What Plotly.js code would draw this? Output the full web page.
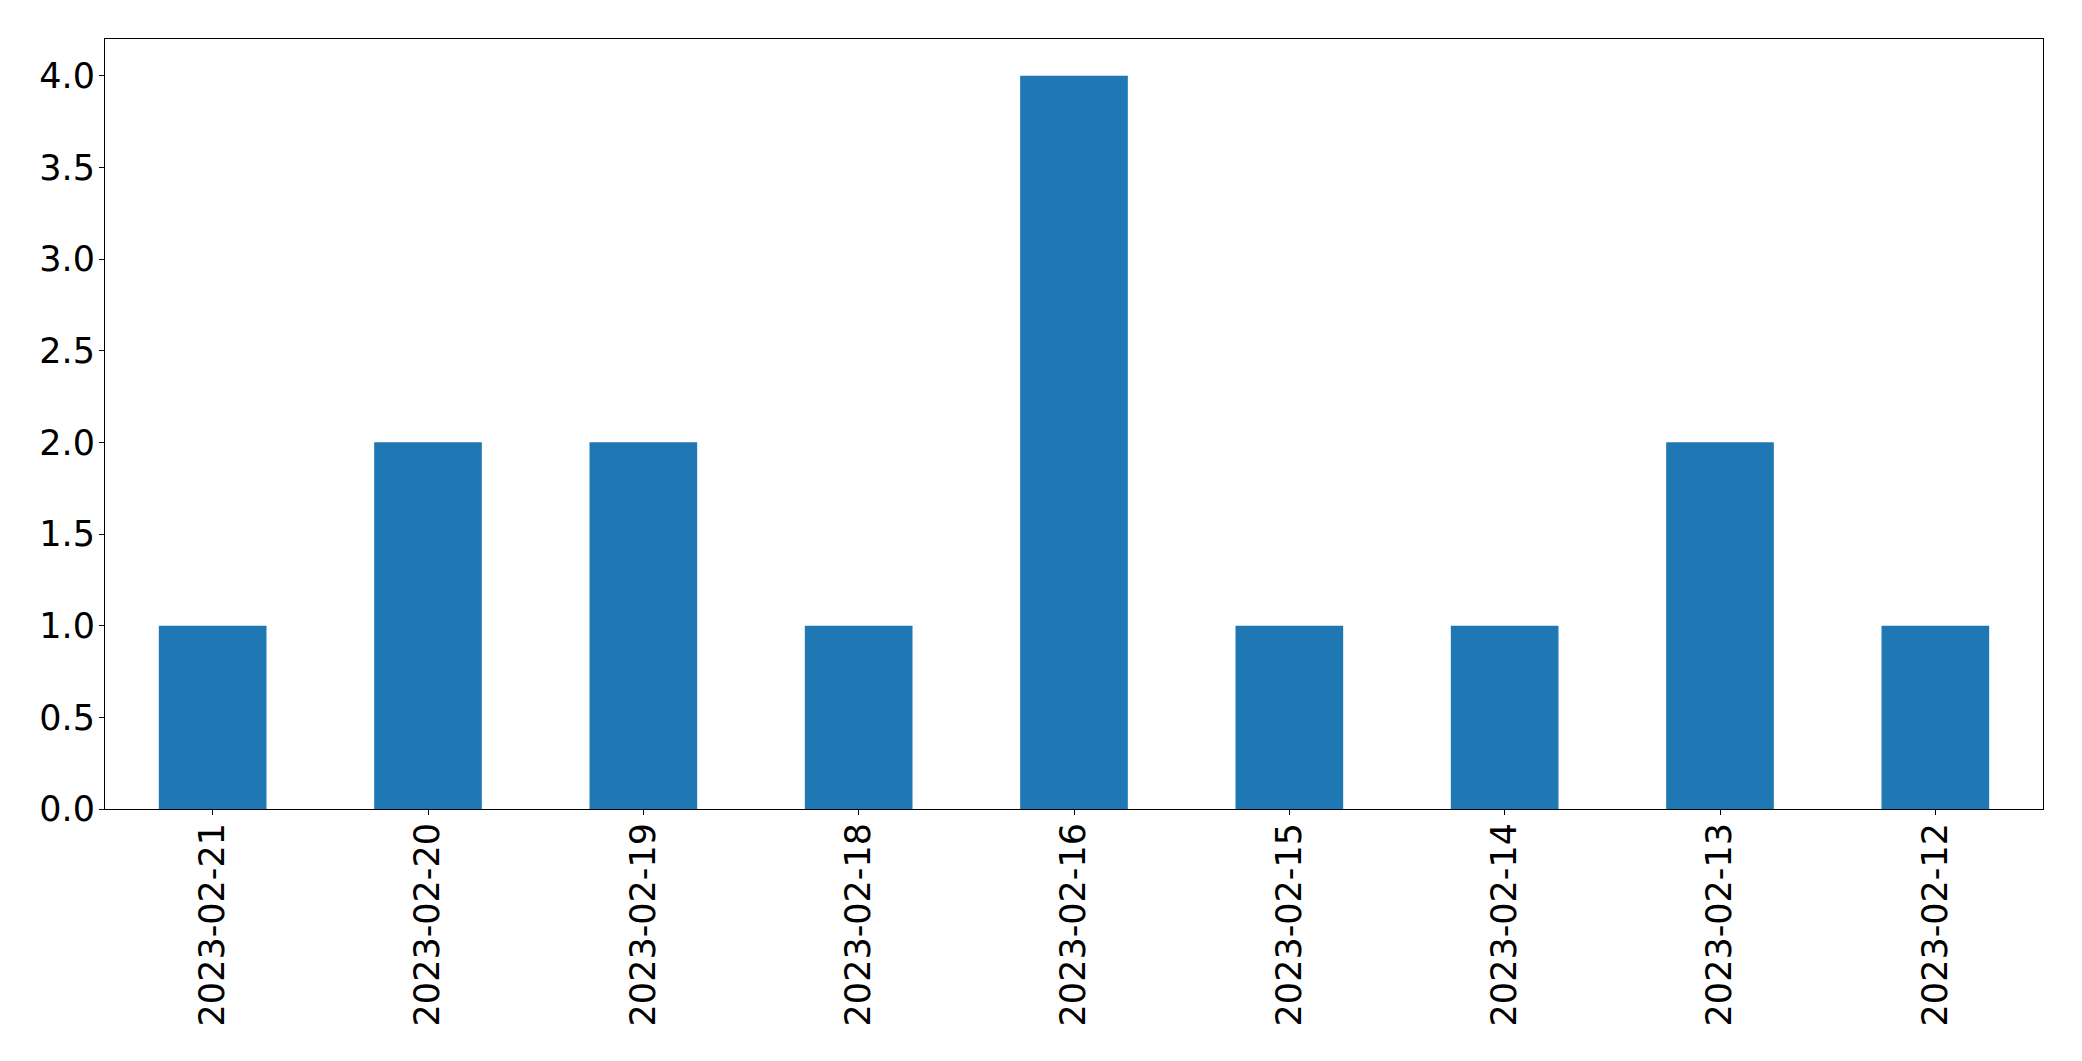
<!DOCTYPE html>
<html>
<head>
<meta charset="utf-8">
<script src="https://cdn.plot.ly/plotly-3.0.1.min.js"></script>
<style>html,body{margin:0;padding:0;background:#fff;}#chart{width:2082px;height:1061px;}</style>
</head>
<body>
<div id="chart"></div>
<script>
const dates = ["2023-02-21","2023-02-20","2023-02-19","2023-02-18","2023-02-16","2023-02-15","2023-02-14","2023-02-13","2023-02-12"];
const counts = [1, 2, 2, 1, 4, 1, 1, 2, 1];
const yTickVals = [0, 0.5, 1, 1.5, 2, 2.5, 3, 3.5, 4];

const trace = {
  type: 'bar',
  x: dates,
  y: counts,
  width: 0.5,
  marker: {color: '#1f77b4', line: {width: 0}},
  hoverinfo: 'x+y'
};

const axisCommon = {
  showline: true,
  mirror: true,
  linecolor: '#000',
  linewidth: 1,
  showgrid: false,
  zeroline: false,
  ticks: 'outside',
  ticklen: 5,
  tickwidth: 1,
  tickcolor: '#000',
  tickfont: {family: 'DejaVu Sans', size: 35, color: '#000'}
};

const layout = {
  width: 2082,
  height: 1061,
  margin: {l: 105, r: 39, t: 39, b: 252, pad: 0},
  paper_bgcolor: '#fff',
  plot_bgcolor: '#fff',
  showlegend: false,
  font: {family: 'DejaVu Sans', color: '#000'},
  xaxis: Object.assign({}, axisCommon, {
    type: 'category',
    categoryorder: 'array',
    categoryarray: dates,
    range: [-0.5, dates.length - 0.5],
    tickangle: -90,
    ticklabelstandoff: -6
  }),
  yaxis: Object.assign({}, axisCommon, {
    range: [0, 4.2],
    tickvals: yTickVals,
    ticktext: yTickVals.map(v => v.toFixed(1)),
    ticklabelstandoff: -3
  })
};

Plotly.newPlot('chart', [trace], layout, {displayModeBar: false, staticPlot: true});
</script>
</body>
</html>
